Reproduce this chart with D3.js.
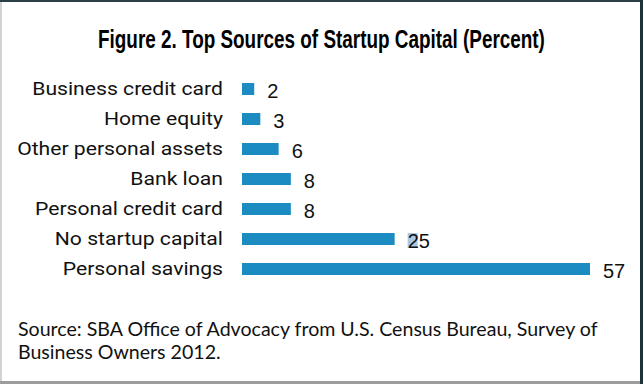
<!DOCTYPE html>
<html>
<head>
<meta charset="UTF-8">
<script src="https://cdn.jsdelivr.net/npm/d3@7"></script>
<style>
  html, body { margin: 0; padding: 0; background: #fff; }
  svg { display: block; }
</style>
</head>
<body>
<div id="chart"></div>
<script>
  // data
  var categories = ["Business credit card", "Home equity", "Other personal assets", "Bank loan",
                    "Personal credit card", "No startup capital", "Personal savings"];
  var values = [2, 3, 6, 8, 8, 25, 57];
  var title = "Figure 2. Top Sources of Startup Capital (Percent)";
  var sourceLines = ["Source: SBA Office of Advocacy from U.S. Census Bureau, Survey of",
                     "Business Owners 2012."];

  var W = 643, H = 384;
  var svg = d3.select("#chart").append("svg").attr("width", W).attr("height", H);

  // frame
  svg.append("rect").attr("width", W).attr("height", H).attr("fill", "#fff");
  svg.append("rect").attr("x", 0).attr("y", 0).attr("width", 2).attr("height", H).attr("fill", "#cfd3d6");
  svg.append("rect").attr("x", 0).attr("y", H - 3).attr("width", W).attr("height", 3).attr("fill", "#9c9c9c");
  svg.append("rect").attr("x", 0).attr("y", 0).attr("width", W).attr("height", 2).attr("fill", "#2a4046");
  svg.append("rect").attr("x", W - 3).attr("y", 0).attr("width", 3).attr("height", H).attr("fill", "#1c3439");

  // squeeze a text horizontally so it spans `target` px starting at x0
  function squeeze(sel, x0, y0, target) {
    var w = sel.node().getComputedTextLength();
    sel.attr("x", 0).attr("y", 0)
      .attr("transform", "translate(" + x0 + "," + y0 + ") scale(" + (target / w).toFixed(4) + ",1)");
  }

  var t = svg.append("text")
    .attr("font-family", "'Liberation Sans', Arial, sans-serif")
    .attr("font-weight", "bold").attr("font-size", 25).attr("fill", "#000")
    .text(title);
  squeeze(t, 98, 48, 447);

  var x = d3.scaleLinear().domain([0, 57]).range([242, 590]);
  var y = d3.scaleBand().domain(categories).range([74, 284]).paddingInner(0.6).paddingOuter(0.3);

  var labelFont = "Roboto, 'DejaVu Sans', sans-serif";
  var labels = svg.append("g").selectAll("text").data(categories).enter().append("text")
    .attr("dy", "0.34em").attr("text-anchor", "end")
    .attr("font-family", labelFont).attr("font-size", 19).attr("fill", "#111")
    .text(function (d) { return d; });
  // squeeze so the widest label spans the same width as in the figure
  var widest = labels.filter(function (d) { return d === "Other personal assets"; });
  var lsx = 206 / widest.node().getComputedTextLength();
  labels.attr("transform", function (d) {
    return "translate(223," + (y(d) + y.bandwidth() / 2) + ") scale(" + lsx.toFixed(4) + ",1)";
  });

  svg.append("g").selectAll("rect").data(values).enter().append("rect")
    .attr("x", x(0))
    .attr("y", function (d, i) { return y(categories[i]) + y.bandwidth() / 2 - 6; })
    .attr("width", function (d) { return x(d) - x(0); })
    .attr("height", 12)
    .attr("fill", "#1b8bc1");

  // stray selection highlight behind the "2" of 25, as in the source image
  var i25 = values.indexOf(25);
  svg.append("rect")
    .attr("x", x(25) + 13).attr("y", y(categories[i25]) + y.bandwidth() / 2 - 6)
    .attr("width", 10).attr("height", 15).attr("fill", "#a9c8e4");

  svg.append("g").selectAll("text").data(values).enter().append("text")
    .attr("x", function (d) { return x(d) + 13; })
    .attr("y", function (d, i) { return y(categories[i]) + y.bandwidth() / 2 + 9; })
    .attr("font-family", "'Liberation Sans', Arial, sans-serif")
    .attr("font-size", 20).attr("fill", "#111")
    .text(function (d) { return d; });

  var src = svg.append("g").selectAll("text").data(sourceLines).enter().append("text")
    .attr("font-family", "Lato, 'Open Sans', sans-serif")
    .attr("font-size", 19).attr("fill", "#111")
    .text(function (d) { return d; });
  var n0 = src.nodes()[0];
  var sx = 580 / n0.getComputedTextLength();
  src.attr("transform", function (d, i) {
    return "translate(18," + (336 + i * 23) + ") scale(" + sx.toFixed(4) + ",1)";
  });
</script>
</body>
</html>
